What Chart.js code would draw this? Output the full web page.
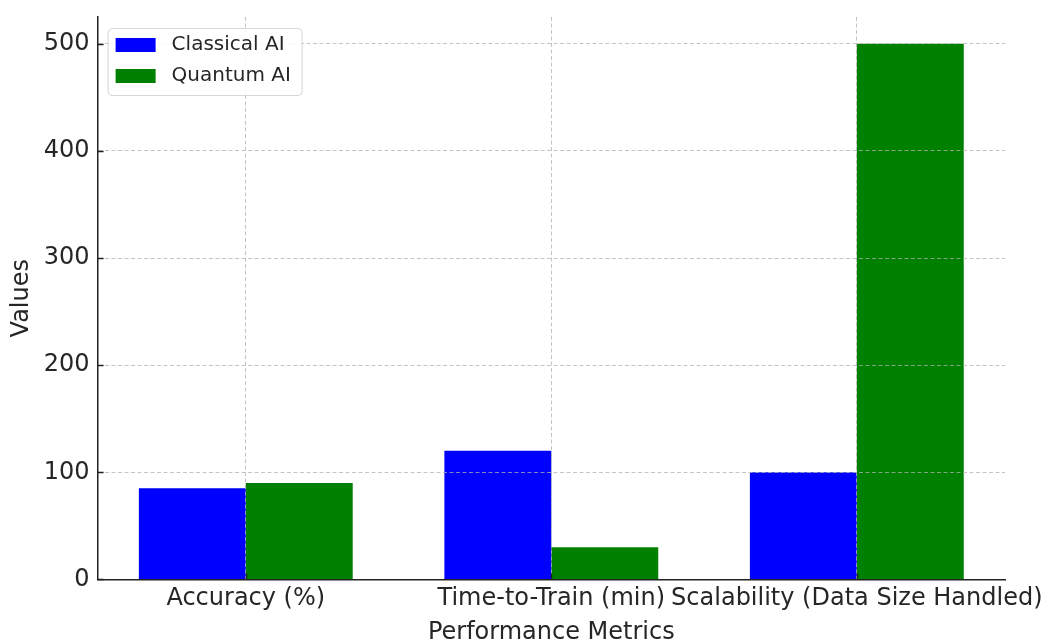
<!DOCTYPE html>
<html>
<head>
<meta charset="utf-8">
<script src="https://cdn.jsdelivr.net/npm/chart.js@4/dist/chart.umd.min.js"></script>
<style>
  html, body { margin: 0; padding: 0; background: #fff; }
  #wrap { width: 1047px; height: 641px; }
</style>
</head>
<body>
<div id="wrap"><canvas id="perfChart" width="1047" height="641"></canvas></div>
<script>
// data
const metrics = ['Accuracy (%)', 'Time-to-Train (min)', 'Scalability (Data Size Handled)'];
const classicalAI = [85, 120, 100];
const quantumAI = [90, 30, 500];
const yTicks = [0, 100, 200, 300, 400, 500];

const FONT = "'DejaVu Sans', sans-serif";
const TEXT = '#262626';
const GRID = 'rgba(176,176,176,0.75)';

// matplotlib style inward ticks + legend box in the upper left
const mplExtras = {
  id: 'mplExtras',
  afterDraw(chart) {
    const ctx = chart.ctx;
    const area = chart.chartArea;
    const x = chart.scales.x, y = chart.scales.y;
    ctx.save();
    ctx.strokeStyle = '#222';
    ctx.lineWidth = 1.4;
    ctx.beginPath();
    y.ticks.forEach(t => {
      const py = Math.round(y.getPixelForValue(t.value)) + 0.5;
      ctx.moveTo(area.left, py);
      ctx.lineTo(area.left + 6, py);
    });
    x.ticks.forEach(t => {
      const px = Math.round(x.getPixelForValue(t.value)) + 0.5;
      ctx.moveTo(px, area.bottom);
      ctx.lineTo(px, area.bottom - 6);
    });
    ctx.stroke();

    // legend
    const bx = area.left + 10, by = area.top + 11, bw = 194, bh = 67;
    ctx.fillStyle = 'rgba(255,255,255,0.85)';
    ctx.strokeStyle = '#d6d6d6';
    ctx.lineWidth = 1;
    ctx.beginPath();
    ctx.roundRect(bx + 0.5, by + 0.5, bw, bh, 4);
    ctx.fill();
    ctx.stroke();
    ctx.font = '20px ' + FONT;
    ctx.textBaseline = 'middle';
    chart.data.datasets.forEach((ds, i) => {
      const cy = by + 17 + i * 31;
      ctx.fillStyle = ds.backgroundColor;
      ctx.fillRect(bx + 8, cy - 7, 40, 14);
      ctx.fillStyle = TEXT;
      ctx.fillText(ds.label, bx + 64, cy);
    });
    ctx.restore();
  }
};

new Chart(document.getElementById('perfChart'), {
  type: 'bar',
  data: {
    datasets: [
      {
        label: 'Classical AI',
        data: classicalAI.map((v, i) => ({ x: i, y: v })),
        backgroundColor: '#0000ff'
      },
      {
        label: 'Quantum AI',
        data: quantumAI.map((v, i) => ({ x: i, y: v })),
        backgroundColor: '#008000'
      }
    ]
  },
  options: {
    responsive: false,
    animation: false,
    devicePixelRatio: 1,
    categoryPercentage: 0.7,
    barPercentage: 1.0,
    layout: { padding: { top: 17, right: 42, bottom: -6, left: 1 } },
    plugins: {
      legend: { display: false },
      tooltip: { enabled: false }
    },
    scales: {
      x: {
        type: 'linear',
        offset: false,
        min: -0.485,
        max: 2.485,
        afterFit: s => { s.paddingLeft = 0; s.paddingRight = 0; },
        grid: { color: GRID, lineWidth: 1, drawTicks: false, offset: false, z: 1 },
        border: { color: '#222', width: 1.5, dash: [4, 2.5], z: 2 },
        ticks: {
          stepSize: 1,
          includeBounds: false,
          autoSkip: false,
          maxRotation: 0,
          minRotation: 0,
          padding: 5,
          color: TEXT,
          font: { family: FONT, size: 24 },
          callback: v => metrics[v] !== undefined ? metrics[v] : ''
        },
        title: {
          display: true,
          text: 'Performance Metrics',
          color: TEXT,
          font: { family: FONT, size: 24 },
          padding: { top: 0, bottom: 0 }
        }
      },
      y: {
        min: 0,
        max: 525,
        afterBuildTicks: s => { s.ticks = yTicks.map(v => ({ value: v })); },
        afterFit: s => { s.paddingTop = 0; s.paddingBottom = 0; },
        grid: { color: GRID, lineWidth: 1, drawTicks: false, z: 1 },
        border: { color: '#222', width: 1.5, dash: [4, 2.5], z: 2 },
        ticks: {
          padding: 8,
          color: TEXT,
          font: { family: FONT, size: 24 }
        },
        title: {
          display: true,
          text: 'Values',
          color: TEXT,
          font: { family: FONT, size: 24 },
          padding: { top: 6, bottom: 0 }
        }
      }
    }
  },
  plugins: [mplExtras]
});
</script>
</body>
</html>
